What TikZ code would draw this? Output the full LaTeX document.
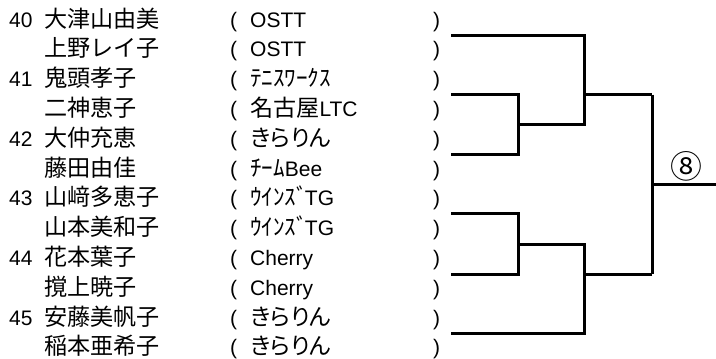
\documentclass[tikz,border=0pt]{standalone}
\usepackage{fontspec}
\setmainfont{Liberation Sans}
\newfontfamily\jp{Noto Sans CJK JP}[Scale=1.1]
\newfontfamily\jpp{Noto Sans CJK JP}[Scale=1.1, RawFeature=+palt]
\tikzstyle{entry} = [anchor=base west, inner sep=0pt, font=\fontsize{21}{24}\selectfont]
\tikzstyle{seed} = [entry]
\tikzstyle{player} = [entry, font=\fontsize{21}{24}\selectfont\jp]
\tikzstyle{paren} = [entry]
\tikzstyle{bracket} = [line width=3pt]
\tikzstyle{round} = [inner sep=0pt, font=\fontsize{29}{30}\selectfont\jp]

\begin{document}
\begin{tikzpicture}[x=1pt, y=-1pt]
    \useasboundingbox (0,0) rectangle (716,359);

    % Entries.
    \foreach \i/\s/\n/\t in {
        0/40/大津山由美/OSTT,
        1//上野レイ子/OSTT,
        2/41/鬼頭孝子/{\jp ﾃﾆｽﾜｰｸｽ},
        3//二神恵子/{\jp 名古屋}LTC,
        4/42/大仲充恵/{\jpp きらりん},
        5//藤田由佳/{\jp ﾁｰﾑ}Bee,
        6/43/山﨑多恵子/{\jp ｳｲﾝｽﾞ}\kern-3pt TG,
        7//山本美和子/{\jp ｳｲﾝｽﾞ}\kern-3pt TG,
        8/44/花本葉子/Cherry,
        9//撹上暁子/Cherry,
        10/45/安藤美帆子/{\jpp きらりん},
        11//稲本亜希子/{\jpp きらりん}} {
        \pgfmathsetmacro\yb{27+29.8*\i}
        \node (seed\i) [seed] at (9,\yb) {\s};
        \node (name\i) [player] at (44,\yb) {\n};
        \node (open\i) [paren] at (230,\yb) {(};
        \node (team\i) [entry] at (250,\yb) {\t};
        \node (close\i) [paren] at (433,\yb) {)};
    }

    % Bracket ends.
    \foreach \k/\y in {40/35, 41/94.5, 42/154, 43/213.5, 44/274, 45/333} {
        \coordinate (e\k) at (451,\y);
    }
    \coordinate (j1) at (518,124);
    \coordinate (k1) at (584,124);
    \coordinate (m1) at (584,94.5);
    \coordinate (r1) at (652,94.5);
    \coordinate (j2) at (518,244);
    \coordinate (k2) at (584,244);
    \coordinate (m2) at (584,274);
    \coordinate (r2) at (652,274);
    \coordinate (f) at (652,184);
    \coordinate (out) at (716,184);

    % Lines.
    \draw [bracket] (e41) -| (j1) |- (e42);
    \draw [bracket] (e40) -| (k1) -- (j1);
    \draw [bracket] (m1) -- (r1);
    \draw [bracket] (e43) -| (j2) |- (e44);
    \draw [bracket] (j2) -- (k2) |- (e45);
    \draw [bracket] (m2) -- (r2);
    \draw [bracket] (r1) -- (r2);
    \draw [bracket] (f) -- (out);

    \node (final) [round] at (686,166) {⑧};
\end{tikzpicture}
\end{document}
